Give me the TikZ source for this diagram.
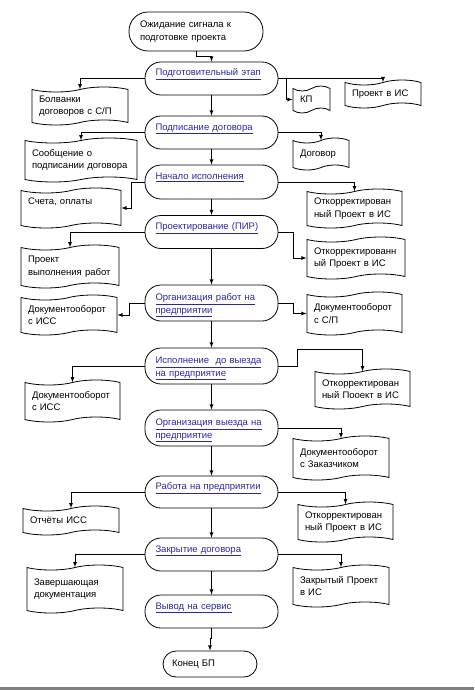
\documentclass[tikz,border=0pt]{standalone}
\usepackage{fontspec}
\setmainfont{Liberation Sans}
\usepackage{tikz}
\usetikzlibrary{arrows,shapes,calc}
\definecolor{link}{RGB}{40,40,160}
\definecolor{bar}{RGB}{128,128,128}
\newcommand{\lnk}[1]{\underline{#1}}
\hyphenpenalty=10000

\begin{document}
\begin{tikzpicture}[->,>=latex,line width=0.8pt,x=1pt,y=-1pt,
    font=\fontsize{9.5}{12.5}\selectfont]
    \tikzstyle{stage}=[draw, rectangle, rounded corners=16pt, minimum width=133pt, minimum height=33pt, text width=112pt, align=left, text height=7pt, text depth=12pt, text=link]
    \tikzstyle{term}=[draw, rectangle, align=left]
    \tikzstyle{doc}=[draw, tape, align=left, inner xsep=7pt]

    \useasboundingbox (0,0) rectangle (474,690);

    % main column
    \node[term, rounded corners=19pt, minimum width=134pt, minimum height=39pt, text width=112pt] (start) at (196,31.5) {Ожидание сигнала к\\подготовке проекта};
    \node[stage] (s1) at (211.5,78.5) {\lnk{Подготовительный этап}};
    \node[stage] (s2) at (211.5,132.5) {\lnk{Подписание договора}};
    \node[stage, minimum height=34pt] (s3) at (211.5,182) {\lnk{Начало исполнения}};
    \node[stage] (s4) at (211.5,232) {\lnk{Проектирование (ПИР)}};
    \node[stage, minimum height=36pt] (s5) at (211.5,303) {\lnk{Организация работ на}\\\lnk{предприятии}};
    \node[stage, minimum height=36pt] (s6) at (211.5,366) {\lnk{Исполнение\ \ до выезда}\\\lnk{на предприятие}};
    \node[stage, minimum height=36pt] (s7) at (211.5,428) {\lnk{Организация выезда на}\\\lnk{предприятие}};
    \node[stage, minimum height=32pt] (s8) at (211.5,492) {\lnk{Работа на предприятии}};
    \node[stage] (s9) at (211.5,554.5) {\lnk{Закрытие договора}};
    \node[stage] (s10) at (211.5,611.5) {\lnk{Вывод на сервис}};
    \node[term, rounded corners=13pt, minimum width=94pt, minimum height=26pt, text width=76pt] (end) at (210,664) {Конец БП};

    % documents
    \node[doc, text width=82pt, minimum height=38pt] (d1) at (80,106) {Болванки\\договоров с С/П};
    \node[doc, text width=23pt, minimum height=27pt] (d2) at (311.5,99.5) {КП};
    \node[doc, text width=62pt, minimum height=28pt] (d3) at (383,94) {Проект в ИС};
    \node[doc, text width=98pt, minimum height=44pt] (d4) at (81,160) {Сообщение о\\подписании договора};
    \node[doc, text width=42pt, minimum height=32pt] (d5) at (321,154) {Договор};
    \node[doc, text width=86pt, minimum height=40pt, text depth=14pt] (d6) at (71,208) {Счета, оплаты};
    \node[doc, text width=81pt, minimum height=39pt] (d7) at (354.5,208.5) {Откорректирован\\ный Проект в ИС};
    \node[doc, text width=84pt, minimum height=43pt] (d8) at (70,266.5) {Проект\\выполнения работ};
    \node[doc, text width=84pt, minimum height=42pt] (d9) at (356,258) {Откорректированн\\ый Проект в ИС};
    \node[doc, text width=82pt, minimum height=40pt] (d10) at (69,315) {Документооборот\\с ИСС};
    \node[doc, text width=81pt, minimum height=43pt] (d11) at (354.5,313.5) {Документооборот\\с С/П};
    \node[doc, text width=81pt, minimum height=42pt] (d12) at (72.5,401) {Документооборот\\с ИСС};
    \node[doc, text width=81pt, minimum height=40pt] (d13) at (362.5,389) {Откорректирован\\ный Пооект в ИС};
    \node[doc, text width=82pt, minimum height=44pt] (d14) at (341,458) {Документооборот\\с Заказчиком};
    \node[doc, text width=82pt, minimum height=29pt] (d15) at (71,520.5) {Отчёты ИСС};
    \node[doc, text width=81pt, minimum height=40pt] (d16) at (345.5,522) {Откорректирован\\ный Проект в ИС};
    \node[doc, text width=82pt, minimum height=48pt] (d17) at (75,589) {Завершающая\\документация};
    \node[doc, text width=82pt, minimum height=42pt] (d18) at (341,586) {Закрытый Проект\\в ИС};

    % connectors
    \draw (start.south) -- ++(0,5) -| (s1.north);
    \foreach \a/\b in {s1/s2,s2/s3,s3/s4,s4/s5,s5/s6,s6/s7,s7/s8,s8/s9,s9/s10}
        \draw (\a.south) -- (\b.north);
    \draw (s10.south) -- ++(0,10) -| (end.north);

    \foreach \a/\b in {s1.west/d1,s1.east/d3,s2.west/d4,s2.east/d5,s3.east/d7,s4.west/d8,
        s6.west/d12,s7.east/d14,s8.west/d15,s8.east/d16,s9.west/d17,s9.east/d18}
        \draw (\a) -| (\b.north);
    \draw (s1.east) -- ++(8,0) |- (d2.west);
    \draw (s3.west) -- ++(-13,0) |- (d6.east);
    \draw (s4.east) -- ++(15,0) |- (d9.west);
    \draw (s5.west) -- ++(-15,0) |- (d10.east);
    \draw (s5.east) -- ++(15,0) |- (d11.west);
    \draw (s6.east) -- ++(19,0) -- ++(0,-17) -| (d13.north);

    \fill[bar] (0,687) rectangle (474,690);
\end{tikzpicture}
\end{document}
